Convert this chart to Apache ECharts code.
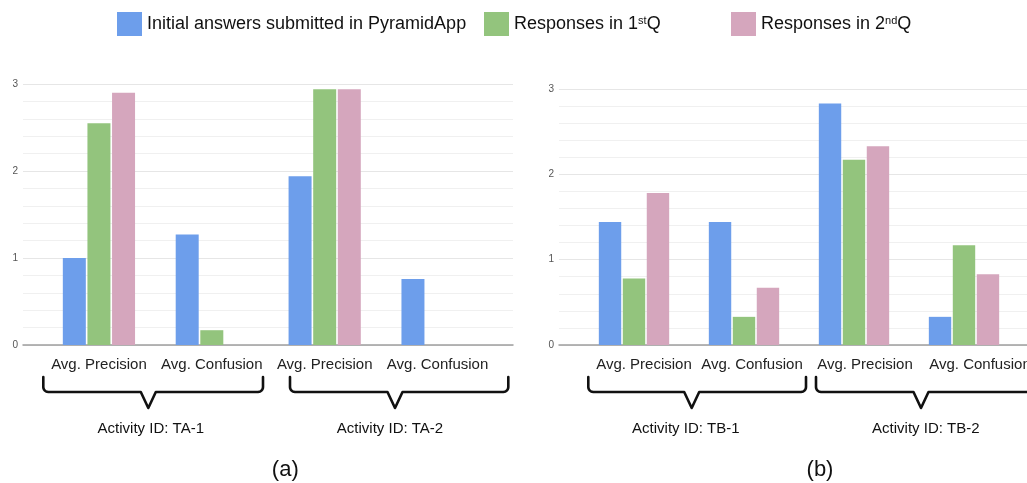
<!DOCTYPE html>
<html>
<head>
<meta charset="UTF-8"/>
<title></title>
<script src="https://cdn.jsdelivr.net/npm/echarts@6/dist/echarts.min.js"></script>
<style>
html, body { margin: 0; padding: 0; background: #fff; }
#placeholder { width: 1027px; height: 483px; }
</style>
</head>
<body>
<div id="placeholder"></div>
<script type="text/javascript">
// categories and values
var categories = ['Avg. Precision', 'Avg. Confusion', 'Avg. Precision', 'Avg. Confusion'];
var seriesNames = ['Initial answers submitted in PyramidApp', 'Responses in 1stQ', 'Responses in 2ndQ'];
var colors = ['#6d9eeb', '#93c47d', '#d5a6bd'];
var yTicks = [0, 1, 2, 3];

// panel (a): TA-1, TA-2
var initialA = [1.00, 1.27, 1.94, 0.76];
var firstA   = [2.55, 0.17, 2.94, 0];
var secondA  = [2.90, 0,    2.94, 0];
// panel (b): TB-1, TB-2
var initialB = [1.44, 1.44, 2.83, 0.33];
var firstB   = [0.78, 0.33, 2.17, 1.17];
var secondB  = [1.78, 0.67, 2.33, 0.83];

var groupLabels = ['Activity ID: TA-1', 'Activity ID: TA-2', 'Activity ID: TB-1', 'Activity ID: TB-2'];
var panelLabels = ['(a)', '(b)'];

var font = '"Liberation Sans", Arial, Helvetica, sans-serif';

var myChart = echarts.init(document.getElementById('placeholder'));

function bgY(gridIndex) {
    return {
        type: 'value', gridIndex: gridIndex, min: yTicks[0], max: yTicks[yTicks.length - 1], interval: 1,
        axisLine: { show: false }, axisTick: { show: false },
        axisLabel: { color: '#555', fontSize: 10, fontFamily: font, margin: 5 },
        splitLine: { lineStyle: { color: '#e6e6e6', width: 1 } },
        minorTick: { show: false, splitNumber: 5 },
        minorSplitLine: { show: true, lineStyle: { color: '#f0f0f0', width: 1 } }
    };
}
function barY(gridIndex) {
    return { type: 'value', gridIndex: gridIndex, min: 0, max: 3, show: false };
}
function bgX(gridIndex) {
    return {
        type: 'value', gridIndex: gridIndex, min: 0, max: 1,
        axisLine: { show: true, onZero: false, lineStyle: { color: '#9e9e9e', width: 1.5 } },
        axisTick: { show: false }, axisLabel: { show: false }, splitLine: { show: false }
    };
}
// pads: left padding per label, shifts it right by half the value
function barX(gridIndex, pads) {
    return {
        type: 'category', gridIndex: gridIndex,
        data: categories.map(function (c, i) {
            return { value: c, textStyle: { padding: [0, 0, 0, pads[i]] } };
        }),
        axisLine: { show: false }, axisTick: { show: false },
        axisLabel: { interval: 0, color: '#222', fontSize: 15, fontFamily: font, margin: 12 }
    };
}
function bars(values, idx, axisIndex, w) {
    return {
        name: seriesNames[idx], type: 'bar', data: values,
        xAxisIndex: axisIndex, yAxisIndex: axisIndex,
        barWidth: w, barGap: '7%',
        itemStyle: { color: colors[idx] },
        emphasis: { disabled: true }
    };
}
function legendItem(idx, left) {
    return {
        data: [seriesNames[idx]], left: left, top: 12, padding: 0,
        icon: 'rect', itemWidth: 25, itemHeight: 24, selectedMode: false,
        formatter: function (name) {
            if (name === 'Responses in 1stQ') return '{n|Responses in 1}{s|st}{n|Q}';
            if (name === 'Responses in 2ndQ') return '{n|Responses in 2}{s|nd}{n|Q}';
            return '{n|' + name + '}';
        },
        textStyle: {
            color: '#111', fontFamily: font, fontSize: 18,
            rich: {
                n: { fontSize: 18, fontFamily: font, color: '#111' },
                s: { fontSize: 11, fontFamily: font, color: '#111', verticalAlign: 'top' }
            }
        }
    };
}
// curly brace under a pair of categories, drawn as a polyline
function brace(x1, x2, xt) {
    var yTop = 377, yH = 392, yTip = 408, r = 5, v = 7.5;
    var pts = [[x1, yTop]];
    var k, t;
    for (k = 0; k <= 6; k++) {
        t = (k / 6) * Math.PI / 2;
        pts.push([x1 + r - r * Math.cos(t), yH - r + r * Math.sin(t)]);
    }
    pts.push([xt - v, yH], [xt, yTip], [xt + v, yH]);
    for (k = 0; k <= 6; k++) {
        t = Math.PI / 2 - (k / 6) * Math.PI / 2;
        pts.push([x2 - r + r * Math.cos(t), yH - r + r * Math.sin(t)]);
    }
    pts.push([x2, yTop]);
    return {
        type: 'polyline', silent: true,
        shape: { points: pts },
        style: { fill: 'none', stroke: '#111', lineWidth: 2.6, lineJoin: 'round', lineCap: 'round' }
    };
}
function label(text, x, y, size) {
    return {
        type: 'text', x: x, y: y, silent: true,
        style: { text: text, fill: '#111', fontSize: size, fontFamily: font, textAlign: 'center', textVerticalAlign: 'middle' }
    };
}

var option = {
    backgroundColor: '#fff',
    animation: false,
    legend: [legendItem(0, 117), legendItem(1, 484), legendItem(2, 731)],
    grid: [
        { left: 23, top: 84, width: 490, height: 261, outerBoundsMode: 'none' },
        { left: 42.5, top: 84, width: 451.5, height: 261, outerBoundsMode: 'none' },
        { left: 559, top: 89, width: 480, height: 256, outerBoundsMode: 'none' },
        { left: 579, top: 89, width: 440, height: 256, outerBoundsMode: 'none' }
    ],
    xAxis: [bgX(0), barX(1, [0, 0, 0, 0]), bgX(2), barX(3, [20, 16, 22, 32])],
    yAxis: [bgY(0), barY(1), bgY(2), barY(3)],
    series: [
        bars(initialA, 0, 1, 23), bars(firstA, 1, 1, 23), bars(secondA, 2, 1, 23),
        bars(initialB, 0, 3, 22.4), bars(firstB, 1, 3, 22.4), bars(secondB, 2, 3, 22.4)
    ],
    graphic: [
        brace(43.3, 263, 148.3), brace(290, 508.3, 395),
        brace(588.3, 806, 691.7), brace(816, 1045, 921),
        label(groupLabels[0], 150.8, 428.5, 15), label(groupLabels[1], 390, 428.5, 15),
        label(groupLabels[2], 685.8, 428.5, 15), label(groupLabels[3], 925.8, 428.5, 15),
        label(panelLabels[0], 285.3, 470, 22), label(panelLabels[1], 820, 470, 22)
    ]
};
if (option && typeof option === "object") {
    myChart.setOption(option, true);
}
</script>
</body>
</html>
